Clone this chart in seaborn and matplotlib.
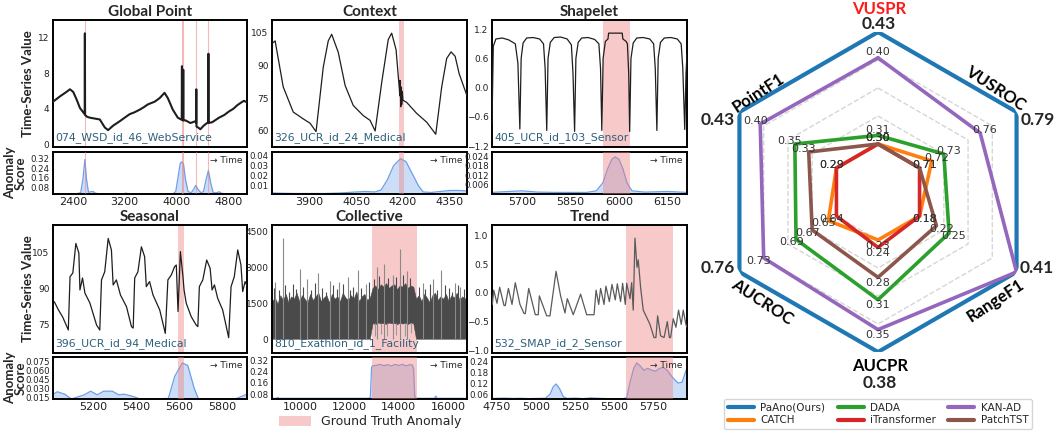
import matplotlib
matplotlib.use("Agg")
import matplotlib.pyplot as plt
import numpy as np
import seaborn as sns
from matplotlib.lines import Line2D
from matplotlib.patches import Patch

sns.set_theme(style="white")
plt.rcParams["font.family"] = ["DejaVu Sans"]

W, H = 1057, 434
LINE_DARK = "#1e1e1e"
GT_PINK = "#f08080"
SCORE_BLUE = "#6d9eeb"
NAME_COLOR = "#2d607d"
TITLE_FONT = ["Lato", "DejaVu Sans"]

# ---------------- Global Point ----------------
GP_T = [2092, 2200, 2300, 2354, 2405, 2460, 2508, 2560, 2582, 2585, 2588, 2620, 2662, 2740, 2816,
        2893, 2944, 3021, 3124, 3200, 3278, 3350, 3432, 3500, 3560, 3663, 3740, 3817, 3868, 3945,
        4022, 4073, 4083, 4086, 4089, 4100, 4103, 4106, 4109, 4140, 4217, 4294, 4305, 4308, 4311,
        4335, 4371, 4422, 4474, 4492, 4495, 4498, 4556, 4659, 4740, 4813, 4880, 4941, 5000, 5044, 5100]
GP_V = [4.8, 5.4, 5.9, 6.2, 5.9, 5.0, 4.1, 3.6, 3.4, 12.5, 3.3, 3.1, 3.0, 2.9, 2.8,
        1.9, 1.6, 2.1, 2.6, 3.0, 3.4, 3.6, 3.9, 4.2, 4.5, 4.8, 5.2, 5.8, 5.2, 3.9,
        3.0, 2.8, 2.8, 8.8, 2.8, 2.7, 2.7, 8.4, 2.7, 2.7, 2.4, 2.6, 2.4, 6.2, 2.0,
        1.9, 1.7, 2.1, 2.4, 2.4, 10.2, 2.4, 2.5, 3.0, 3.3, 3.7, 4.0, 4.4, 4.7, 4.9, 4.7]
GP_ST = [2092, 2450, 2520, 2555, 2585, 2610, 2640, 2680, 2713, 2750, 2800, 3180, 3220, 3260, 3950,
         3990, 4030, 4060, 4086, 4110, 4140, 4180, 4230, 4270, 4300, 4330, 4380, 4420, 4460, 4495,
         4530, 4570, 4620, 4660, 4700, 4750, 5100]
GP_SV = [0.032, 0.032, 0.04, 0.15, 0.31, 0.15, 0.045, 0.048, 0.05, 0.036, 0.032, 0.032, 0.037, 0.032, 0.032,
         0.05, 0.18, 0.28, 0.29, 0.27, 0.15, 0.05, 0.04, 0.07, 0.1, 0.07, 0.04, 0.05, 0.15, 0.22,
         0.12, 0.04, 0.04, 0.048, 0.036, 0.032, 0.032]
GP_GT = [2585, 4086, 4106, 4308, 4495]

# ---------------- Context ----------------
CTX_T = [3783, 3791, 3817, 3849, 3881, 3903, 3922, 3945, 3961, 3972, 3993, 4015, 4041, 4073, 4095,
         4111, 4132, 4153, 4164, 4178, 4185, 4188, 4190, 4191, 4193, 4195, 4196, 4198, 4200, 4212,
         4244, 4276, 4305, 4324, 4340, 4354, 4367, 4380, 4405]
CTX_V = [100, 101, 80, 68.6, 65.5, 63.5, 59.7, 89, 101, 104, 95.8, 80.7, 71.6, 67, 64.8,
         60, 82, 101.6, 104.5, 97, 85, 80, 76, 83, 71, 80, 72, 78, 74, 73,
         68, 64, 58.5, 80, 93, 96, 94, 86, 76]
CTX_ST = [3781, 3850, 3950, 4000, 4050, 4080, 4110, 4130, 4150, 4170, 4192, 4210, 4230, 4250, 4265,
          4290, 4320, 4350, 4380, 4405]
CTX_SV = [0.003, 0.0025, 0.0025, 0.003, 0.004, 0.0045, 0.004, 0.006, 0.016, 0.03, 0.037, 0.034, 0.022, 0.01, 0.004,
          0.0035, 0.0045, 0.0055, 0.0055, 0.005]
CTX_GT = (4188, 4202)

# ---------------- Shapelet ----------------
SHP_T = [5608, 5612, 5620, 5640, 5660, 5680, 5688, 5694, 5698, 5704, 5715, 5735, 5755, 5767, 5772,
         5777, 5781, 5788, 5800, 5820, 5840, 5853, 5858, 5863, 5867, 5874, 5885, 5905, 5925, 5938,
         5943, 5947, 5951, 5958, 5966, 5968, 6010, 6012, 6022, 6026, 6030, 6033, 6037, 6044, 6055,
         6075, 6095, 6107, 6112, 6117, 6121, 6128, 6140, 6160, 6180, 6192, 6197, 6203, 6207, 6210]
SHP_V = [-0.75, 0.85, 1.0, 1.02, 0.98, 0.9, 0.5, -0.85, 0.6, 0.92, 1.02, 1.03, 1.0, 0.9, 0.4,
         -0.88, 0.6, 0.93, 1.03, 1.04, 1.0, 0.88, 0.3, -0.9, 0.6, 0.93, 1.02, 1.03, 0.99, 0.9,
         0.4, -0.88, 0.6, 0.95, 1.0, 1.12, 1.12, 1.0, 0.95, 0.9, 0.3, -0.9, 0.6, 0.92, 1.02,
         1.03, 1.0, 0.9, 0.4, -0.88, 0.6, 0.93, 1.02, 1.03, 1.0, 0.9, 0.4, -0.86, 0.3, 0.7]
SHP_ST = [5608, 5650, 5700, 5750, 5800, 5900, 5930, 5950, 5965, 5978, 5988, 6000, 6012, 6025, 6040,
          6080, 6150, 6210]
SHP_SV = [0.001, 0.0015, 0.002, 0.0012, 0.001, 0.001, 0.002, 0.007, 0.016, 0.022, 0.0235, 0.022, 0.016, 0.007, 0.002,
          0.0012, 0.0016, 0.001]
SHP_GT = (5950, 6033)

# ---------------- Seasonal ----------------
SEA_T = [5021, 5040, 5060, 5086, 5094, 5107, 5121, 5135, 5140, 5152, 5163, 5186, 5217, 5232, 5240,
         5255, 5271, 5286, 5294, 5309, 5328, 5356, 5379, 5387, 5394, 5409, 5425, 5440, 5448, 5463,
         5479, 5510, 5536, 5548, 5564, 5579, 5587, 5595, 5606, 5618, 5623, 5633, 5656, 5679, 5687,
         5694, 5710, 5728, 5744, 5753, 5764, 5779, 5802, 5830, 5841, 5856, 5872, 5887, 5895, 5906, 5915]
SEA_V = [84.4, 81, 78, 72.6, 94.8, 96.4, 108.7, 104.7, 89.3, 94.3, 88, 83.9, 74.7, 72.6, 93.5,
         96.9, 110.8, 106, 91.4, 93.5, 87.2, 82.3, 74, 73.4, 94.3, 96.9, 107.3, 103.2, 90.7, 92.8,
         87.2, 81, 71.2, 93.5, 95.6, 99, 99.7, 80.3, 105.3, 94.8, 89.3, 83.8, 78.2, 74.7, 74,
         90.7, 93.5, 101.8, 98.3, 89.3, 91.4, 85.8, 81, 69.4, 90.7, 94.8, 106, 99.7, 88.6, 92.8, 91]
SEA_ST = [5015, 5035, 5070, 5100, 5160, 5190, 5220, 5250, 5290, 5320, 5345, 5380, 5420, 5480, 5550,
          5580, 5615, 5640, 5670, 5690, 5860, 5915]
SEA_SV = [0.02, 0.024, 0.02, 0.012, 0.019, 0.025, 0.019, 0.025, 0.025, 0.019, 0.02, 0.017, 0.012, 0.012, 0.013,
          0.05, 0.072, 0.068, 0.03, 0.012, 0.012, 0.02]
SEA_GT = (5595, 5625)

# ---------------- Collective ----------------
COL_T = np.arange(8870, 16800, 110)
COL_HI = [1600, 1750, 1500, 1850, 1650, 1900, 1550, 1800, 1700, 1950, 1600, 1850, 1700, 1550, 1900,
          1650, 1800, 1950, 1600, 1750, 1850, 1550, 1900, 1700, 1800, 1600, 1950, 1750, 1650, 1850,
          1700, 2000, 1600, 1800, 1900, 1650, 1750,
          2150, 2250, 2100, 2300, 2200, 2350, 2150, 2250, 2300, 2100, 2250, 2200, 2350, 2150, 2250, 2200,
          1700, 1850, 1600, 1900, 1750, 1550, 1850, 1950, 1650, 1800, 1700, 1900, 1600, 1850, 1750,
          1950, 1650, 1800, 1700, 1850]
COL_LO = [50] * 37 + [700, 650, 720, 680, 700, 660, 720, 690, 700, 650, 710, 680, 700, 660, 720, 690] + [50] * 20
# tall light spikes
COL_SPK_T = [9000, 9320, 9980, 10300, 10710, 11200, 11590, 11930, 12330, 12670, 13100, 13400, 13750,
             14040, 14350, 14990, 15400, 15730, 16270, 16500]
COL_SPK_V = [2400, 4200, 2950, 2500, 2750, 2450, 2400, 2600, 2900, 2300, 3000, 3150, 2700,
             3750, 2850, 2350, 2500, 2900, 2350, 2200]
# dense dark spikes above the band of values
COL_TEX_T = [8930, 9150, 9410, 9560, 9720, 9850, 10120, 10450, 10600, 10880, 11040, 11350, 11480,
             11760, 12020, 12150, 12480, 12790, 12980, 13220, 13560, 13880, 14180, 14470, 14820,
             15080, 15250, 15560, 15880, 16020, 16150, 16420, 16640]
COL_TEX_V = [2150, 2050, 2250, 2000, 2300, 2100, 2200, 2050, 2350, 2150, 2000, 2250, 2100,
             2300, 2050, 2200, 2150, 2400, 2500, 2650, 2550, 2600, 2700, 2550, 2200,
             2100, 2300, 2050, 2250, 2150, 2000, 2250, 2100]
COL_DIP_T = [13050, 13300, 13520, 13900, 14250, 14500]
COL_DIP_V = [150, 250, 180, 220, 160, 300]
COL_ST = [8870, 9050, 9100, 9150, 12800, 12850, 12900, 12950, 13100, 13250, 13400, 13550, 13700, 13850,
          14000, 14150, 14300, 14450, 14550, 14600, 14650, 14700, 15450, 15500, 15550, 16765]
COL_SV = [0.05, 0.05, 0.056, 0.05, 0.05, 0.06, 0.27, 0.28, 0.283, 0.29, 0.28, 0.288, 0.278, 0.29,
          0.282, 0.29, 0.279, 0.288, 0.285, 0.26, 0.06, 0.05, 0.05, 0.066, 0.05, 0.05]
COL_GT = (12900, 14750)

# ---------------- Trend ----------------
TR_T = [4720, 4729, 4750, 4767, 4795, 4803, 4823, 4846, 4867, 4897, 4923, 4931, 4953, 4995, 5014,
        5021, 5068, 5089, 5128, 5157, 5185, 5200, 5238, 5285, 5324, 5371, 5384, 5401, 5413, 5435,
        5447, 5469, 5486, 5507, 5520, 5541, 5554, 5571, 5580, 5601, 5612, 5622, 5633, 5646, 5654,
        5669, 5686, 5712, 5729, 5755, 5767, 5778, 5797, 5819, 5840, 5853, 5861, 5878, 5895, 5912,
        5929, 5942, 5959, 5966]
TR_V = [-0.2, 0.05, -0.18, 0.1, -0.22, -0.22, 0.08, -0.2, 0.18, -0.2, -0.36, -0.36, 0.08, -0.38, -0.38,
        -0.05, -0.4, -0.4, 0.38, -0.05, -0.35, -0.1, -0.38, -0.02, -0.38, -0.38, 0.05, -0.2, 0.08, -0.2,
        0.12, -0.15, 0.15, -0.12, 0.16, -0.15, 0.17, -0.2, 0.17, -0.1, 0.18, -0.3, 0.96, 0.45, 0.58,
        0.1, -0.3, -0.45, -0.55, -0.78, -0.78, -0.4, -0.75, -0.78, -0.5, -0.78, -0.78, -0.45, -0.6, -0.3,
        -0.55, -0.3, -0.55, -0.6]
TR_ST = [4720, 4800, 4850, 4900, 4950, 5000, 5060, 5090, 5110, 5128, 5150, 5175, 5200, 5250, 5300,
         5350, 5400, 5450, 5560, 5580, 5600, 5625, 5644, 5665, 5690, 5715, 5740, 5765, 5790, 5815,
         5840, 5865, 5890, 5910, 5935, 5960]
TR_SV = [0.036, 0.038, 0.036, 0.037, 0.035, 0.036, 0.037, 0.06, 0.1, 0.115, 0.09, 0.045, 0.036, 0.038, 0.035,
         0.039, 0.037, 0.035, 0.035, 0.04, 0.12, 0.2, 0.23, 0.215, 0.19, 0.2, 0.19, 0.185, 0.2, 0.205,
         0.19, 0.16, 0.135, 0.12, 0.125, 0.19]
TR_GT = (5575, 5875)

# ---------------- Radar ----------------
METRICS = ["VUSPR", "VUSROC", "RangeF1", "AUCPR", "AUCROC", "PointF1"]
METHODS = ["PaAno(Ours)", "CATCH", "DADA", "iTransformer", "KAN-AD", "PatchTST"]
METHOD_COLORS = ["#1f77b4", "#ff7f0e", "#2ca02c", "#d62728", "#9467bd", "#8c564b"]
SCORES = {
    "PaAno(Ours)": [0.43, 0.79, 0.41, 0.38, 0.76, 0.43],
    "CATCH": [0.30, 0.72, 0.18, 0.23, 0.65, 0.29],
    "DADA": [0.31, 0.73, 0.25, 0.31, 0.69, 0.35],
    "iTransformer": [0.30, 0.71, 0.18, 0.24, 0.64, 0.29],
    "KAN-AD": [0.40, 0.76, 0.41, 0.35, 0.73, 0.40],
    "PatchTST": [0.30, 0.71, 0.22, 0.28, 0.67, 0.33],
}

PANELS = [
    dict(title="Global Point", name="074_WSD_id_46_WebService", t=GP_T, v=GP_V, st=GP_ST, sv=GP_SV,
         gt_lines=GP_GT, xlim=(2092, 5092), ylim=(-0.3, 14), sylim=(0.03, 0.37),
         yticks=[0, 4, 8, 12], syticks=[0.08, 0.16, 0.24, 0.32], xticks=[2400, 3200, 4000, 4800]),
    dict(title="Context", name="326_UCR_id_24_Medical", t=CTX_T, v=CTX_V, st=CTX_ST, sv=CTX_SV,
         gt=CTX_GT, xlim=(3781, 4405), ylim=(52.7, 110.5), sylim=(0.002, 0.0436),
         yticks=[60, 75, 90, 105], syticks=[0.01, 0.02, 0.03, 0.04], xticks=[3900, 4050, 4200, 4350]),
    dict(title="Shapelet", name="405_UCR_id_103_Sensor", t=SHP_T, v=SHP_V, st=SHP_ST, sv=SHP_SV,
         gt=SHP_GT, xlim=(5608, 6210), ylim=(-1.22, 1.39), sylim=(0, 0.0266),
         yticks=[-1.2, -0.6, 0.0, 0.6, 1.2], syticks=[0.006, 0.012, 0.018, 0.024], xticks=[5700, 5850, 6000, 6150]),
    dict(title="Seasonal", name="396_UCR_id_94_Medical", t=SEA_T, v=SEA_V, st=SEA_ST, sv=SEA_SV,
         gt=SEA_GT, xlim=(5015, 5915), ylim=(63, 116.4), sylim=(0.012, 0.082),
         yticks=[75, 90, 105], syticks=[0.015, 0.030, 0.045, 0.060, 0.075], xticks=[5200, 5400, 5600, 5800]),
    dict(title="Collective", name="810_Exathlon_id_1_Facility", t=None, v=None, st=COL_ST, sv=COL_SV,
         gt=COL_GT, xlim=(8865, 16765), ylim=(-540, 4750), sylim=(0.045, 0.342),
         yticks=[0, 1500, 3000, 4500], syticks=[0.08, 0.16, 0.24, 0.32], xticks=[10000, 12000, 14000, 16000]),
    dict(title="Trend", name="532_SMAP_id_2_Sensor", t=TR_T, v=TR_V, st=TR_ST, sv=TR_SV,
         gt=TR_GT, xlim=(4718, 5966), ylim=(-1.05, 1.19), sylim=(0.033, 0.262),
         yticks=[-1.0, -0.5, 0.0, 0.5, 1.0], syticks=[0.06, 0.12, 0.18, 0.24], xticks=[4750, 5000, 5250, 5500, 5750]),
]

COLS = [(53, 247), (272, 467), (492, 687)]
ROWS = [(20, 147, 152, 194), (225, 353, 357, 399)]


def box(left, top, right, bottom):
    return [left / W, 1 - bottom / H, (right - left) / W, (bottom - top) / H]


def style_axes(ax):
    for sp in ax.spines.values():
        sp.set_visible(True)
        sp.set_color("black")
        sp.set_linewidth(1.4)
    ax.tick_params(length=0, pad=2.5)
    ax.grid(False)


fig = plt.figure(figsize=(W / 100, H / 100), dpi=100)

for i, p in enumerate(PANELS):
    left, right = COLS[i % 3]
    top, mid, stop, bottom = ROWS[i // 3]
    ax = fig.add_axes(box(left, top, right, mid))
    sax = fig.add_axes(box(left, stop, right, bottom))

    if p["t"] is not None:
        sns.lineplot(x=p["t"], y=p["v"], ax=ax, color=LINE_DARK if i != 5 else "#5a5a5a",
                     linewidth=1.5 if i == 0 else 0.9, estimator=None, sort=False, zorder=3)
    else:
        ax.fill_between(COL_T, COL_LO, COL_HI, color="#4a4a4a", linewidth=0.4, zorder=2)
        ax.vlines(COL_TEX_T, 1000, COL_TEX_V, color="#4a4a4a", linewidth=0.8, zorder=2)
        ax.vlines(COL_SPK_T, 50, COL_SPK_V, color="#8a8a8a", linewidth=0.8, zorder=2)
        ax.vlines(COL_DIP_T, COL_DIP_V, 700, color="#9a9a9a", linewidth=0.8, zorder=2)

    sns.lineplot(x=p["st"], y=p["sv"], ax=sax, color=SCORE_BLUE, linewidth=0.9,
                 estimator=None, sort=False)
    sax.fill_between(p["st"], p["sylim"][0], p["sv"], color=SCORE_BLUE, alpha=0.35, linewidth=0)

    for a, z in ((ax, 0.5), (sax, 3)):
        if "gt_lines" in p:
            for g in p["gt_lines"]:
                a.axvline(g, color=GT_PINK, alpha=0.55, linewidth=0.8, zorder=z)
        else:
            a.axvspan(*p["gt"], color=GT_PINK, alpha=0.42, linewidth=0, zorder=z)
        a.set_xlim(*p["xlim"])
        style_axes(a)

    ax.set_ylim(*p["ylim"])
    ax.set_yticks(p["yticks"])
    ax.set_xticks(p["xticks"])
    ax.set_xticklabels([])
    ax.tick_params(axis="y", labelsize=6.5, labelcolor="#222222")
    ax.set_title(p["title"], fontsize=11, fontweight="bold", family=TITLE_FONT, pad=3)
    ax.text(0.012, 0.03, p["name"], transform=ax.transAxes, ha="left", va="bottom",
            fontsize=7.8, color=NAME_COLOR, zorder=5)

    sax.set_ylim(*p["sylim"])
    sax.set_yticks(p["syticks"])
    sax.set_xticks(p["xticks"])
    sax.tick_params(axis="y", labelsize=6.2, labelcolor="#222222")
    sax.tick_params(axis="x", labelsize=8, labelcolor="#222222")
    sax.text(0.975, 0.9, "→ Time", transform=sax.transAxes, ha="right", va="top", fontsize=6.5)

for yc_main, yc_score in [(84, 173), (289, 378)]:
    fig.text(28 / W, 1 - yc_main / H, "Time-Series Value", rotation=90, ha="center", va="center",
             fontsize=9.5, fontweight="bold", family=TITLE_FONT)
    fig.text(15 / W, 1 - yc_score / H, "Anomaly\nScore", rotation=90, ha="center", va="center",
             fontsize=9.5, fontweight="bold", family=TITLE_FONT, linespacing=0.85)

fig.legend(handles=[Patch(facecolor=GT_PINK, alpha=0.42, edgecolor="none")],
           labels=["Ground Truth Anomaly"], loc="center", bbox_to_anchor=(370 / W, 1 - 422 / H),
           frameon=False, fontsize=9, handlelength=2.6, handleheight=0.8)

# ---------------- radar ----------------
rax = fig.add_axes(box(718, 32, 1038, 352), projection="polar")
rax.set_theta_zero_location("N")
rax.set_theta_direction(-1)
rax.set_ylim(0, 1)
rax.set_axis_off()

angles = np.linspace(0, 2 * np.pi, len(METRICS), endpoint=False)
closed = np.append(angles, angles[0])
table = np.array([SCORES[m] for m in METHODS])
lo, hi = table.min(axis=0), table.max(axis=0)
radii = 0.3 + 0.7 * (table - lo) / (hi - lo)

for lev in [0.3, 0.475, 0.65, 0.825]:
    rax.plot(closed, [lev] * len(closed), ls="--", color="#d6d6d6", linewidth=1.0, zorder=1)

for k, m in enumerate(METHODS):
    r = radii[k]
    rax.plot(closed, np.append(r, r[0]), color=METHOD_COLORS[k],
             linewidth=3.0 if k == 0 else 2.6, zorder=3 + (k == 5))

best = table[0]
for k in range(1, len(METHODS)):
    for j in range(len(METRICS)):
        if table[k, j] >= best[j]:
            continue
        rax.text(angles[j], radii[k, j] + 0.035, f"{table[k, j]:.2f}", ha="center", va="center",
                 fontsize=8, color="#333333", zorder=6, clip_on=False)

AX_LABELS = [("VUSPR", 879, 9, 0), ("VUSROC", 995, 88, -33), ("RangeF1", 996, 301, 33),
             ("AUCPR", 880, 366, 0), ("AUCROC", 762, 302, -33), ("PointF1", 758, 93, 33)]
BEST_POS = [(879, 24), (1038, 120), (1037, 268), (880, 383), (718, 268), (718, 120)]
for j, (lab, x, y, rot) in enumerate(AX_LABELS):
    fig.text(x / W, 1 - y / H, lab, rotation=rot, ha="center", va="center", fontsize=12,
             fontweight="bold", family=TITLE_FONT, color="#ff1a1a" if j == 0 else "black")
    bx, by = BEST_POS[j]
    fig.text(bx / W, 1 - by / H, f"{best[j]:.2f}", ha="center", va="center", fontsize=12.5,
             fontweight="bold", family=TITLE_FONT)

handles = [Line2D([0], [0], color=c, linewidth=3) for c in METHOD_COLORS]
fig.legend(handles, METHODS, ncol=3, loc="center", bbox_to_anchor=(878 / W, 1 - 414 / H),
           fontsize=7.5, frameon=True, edgecolor="#cccccc", handlelength=2.5, columnspacing=1.2,
           borderpad=0.35, labelspacing=0.25, handletextpad=0.6)

fig.savefig("out.png", dpi=100)
